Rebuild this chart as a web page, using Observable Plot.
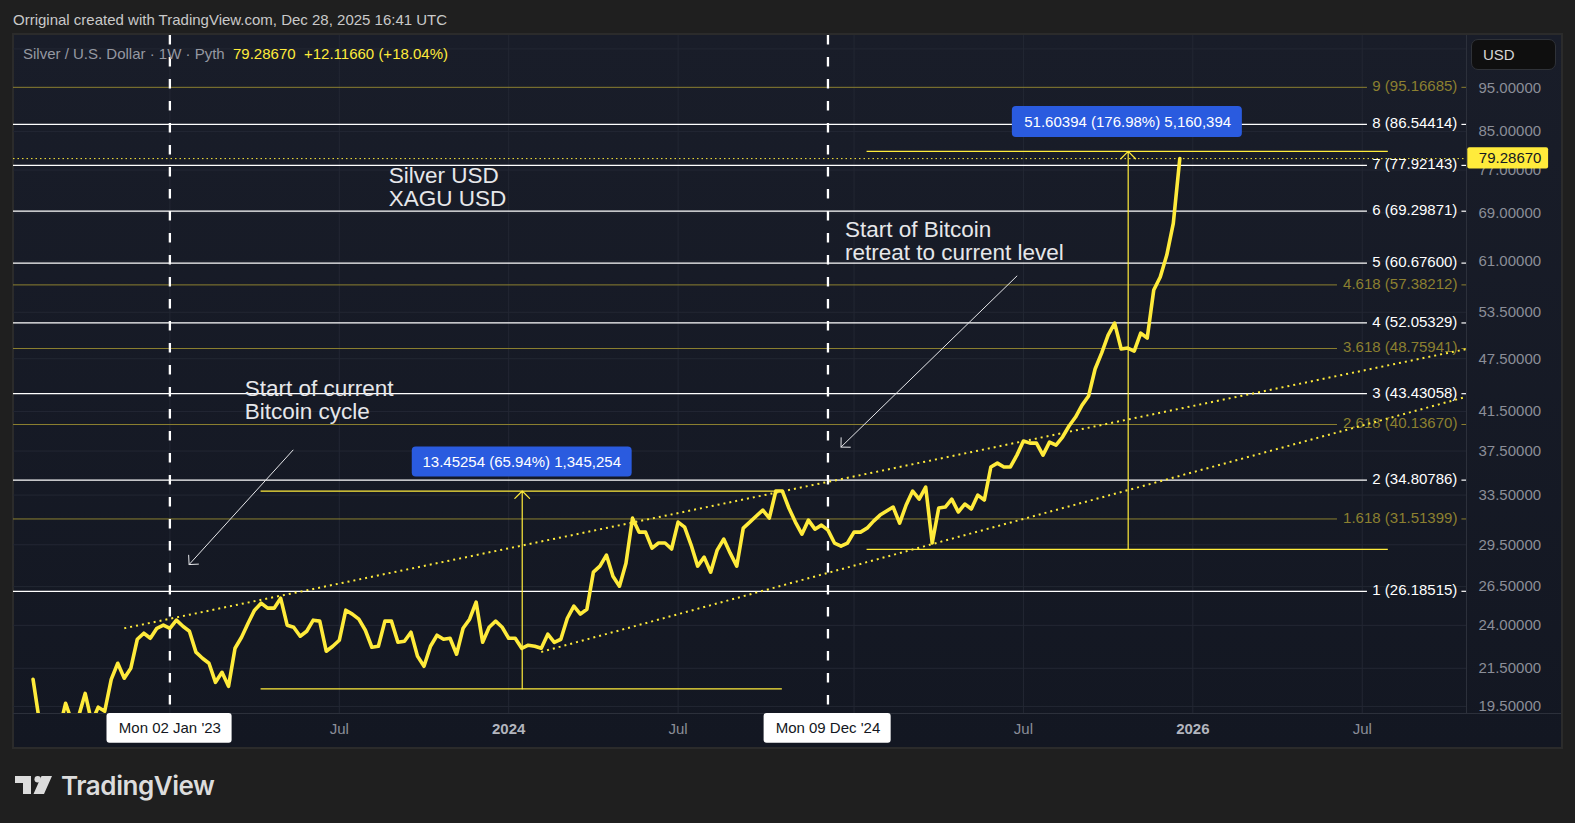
<!DOCTYPE html>
<html>
<head>
<meta charset="utf-8">
<script src="https://cdn.jsdelivr.net/npm/d3@7"></script>
<script src="https://cdn.jsdelivr.net/npm/@observablehq/plot@0.6"></script>
<style>
html,body{margin:0;padding:0;background:#1f1f1f;width:1575px;height:823px;overflow:hidden;font-family:"Liberation Sans",Arial,sans-serif}
#pane{position:absolute;left:12px;top:33px;width:1547px;height:712px;border:2px solid #2b2b2b;background:linear-gradient(#191d29,#131722)}
#chart{position:absolute;left:0;top:0}
.t{position:absolute;white-space:pre;font-size:15px;line-height:18px}
#usd{position:absolute;left:1471px;top:39px;width:85px;height:31px;box-sizing:border-box;background:#0f0f0f;border:1px solid #2f3238;border-radius:7px;color:#d6d6d6;font-size:15px;line-height:30px;padding-left:11px}
#logoText{position:absolute;left:61px;top:768px;font-family:Inter,"Liberation Sans",sans-serif;font-weight:600;font-size:26px;line-height:36px;color:#dcdcdc;letter-spacing:-0.45px}
</style>
</head>
<body>
<div id="pane"></div>
<div id="chart"></div>
<div class="t" style="left:13px;top:11px;color:#c9c9c9">Orriginal created with TradingView.com, Dec 28, 2025 16:41 UTC</div>
<div class="t" style="left:23px;top:45px;color:#9598a1">Silver / U.S. Dollar · 1W · Pyth</div>
<div class="t" style="left:233px;top:45px;color:#ffeb3b">79.28670</div>
<div class="t" style="left:304px;top:45px;color:#ffeb3b">+12.11660 (+18.04%)</div>
<div id="usd">USD</div>
<svg style="position:absolute;left:15px;top:775px" width="40" height="20" viewBox="0 0 40 20">
<path d="M0 1H16V19H8V8H0Z M26.5 1H37L29 19H18.5Z" fill="#dcdcdc"/><circle cx="22.7" cy="4.2" r="3.2" fill="#dcdcdc"/>
</svg>
<div id="logoText">TradingView</div>
<script>
// Weekly closes, first bar Mon 08 Aug 2022 (the bars below the pane are estimates)
const firstWeek = new Date(Date.UTC(2022, 7, 8));
const closes = [
20.90,18.72,18.10,18.10,18.34,19.66,18.72,19.02,20.16,18.72,19.46,19.26,20.90,21.78,20.96,21.50,23.16,23.52,23.22,23.82,24.01,
23.82,24.32,23.94,23.64,22.41,22.06,21.78,20.74,21.28,20.53,22.63,23.28,24.13,24.95,25.40,25.08,25.08,25.73,24.01,23.88,23.34,23.64,24.32,24.26,22.46,22.75,23.10,24.95,24.70,24.38,23.70,22.69,22.75,24.26,24.26,22.98,23.04,23.58,22.18,21.61,22.75,23.40,23.16,23.22,22.29,23.82,24.38,25.47,22.98,23.88,24.26,23.88,
23.22,23.22,22.63,22.81,22.75,22.63,23.46,22.98,23.16,24.44,25.21,24.70,25.01,27.50,27.93,28.73,27.22,26.53,28.14,31.58,30.47,30.47,29.25,29.63,29.63,29.18,31.26,30.86,29.48,27.93,28.58,27.50,29.10,29.93,28.87,27.93,30.78,31.26,31.75,32.24,31.58,33.85,33.85,32.41,31.26,30.31,31.42,30.70,31.02,
30.63,29.63,29.40,29.63,30.47,30.47,30.78,31.34,31.83,32.16,32.49,31.18,32.66,33.85,33.16,34.19,29.63,32.41,32.49,33.16,32.08,32.74,32.33,33.50,33.08,36.00,36.36,36.00,36.00,37.11,38.47,38.27,38.27,37.11,38.37,38.07,38.87,39.98,40.91,42.18,43.17,46.26,48.19,50.47,52.04,48.69,48.81,48.44,50.72,50.08,56.63,58.55,61.94,67.17,79.2867
];
const lastClose = 79.2867;

const priceTicks = [95,85,77,69,61,53.5,47.5,41.5,37.5,33.5,29.5,26.5,24,21.5,19.5];
const gridPrices = [105,85,77,69,61,53.5,47.5,41.5,37.5,33.5,29.5,26.5,24,21.5,19.5];
const monthTicks = ["2023-07-03","2024-07-01","2025-07-07","2026-07-06"];
const monthNames = ["Jul","Jul","Jul","Jul"];
const yearTicks = ["2024-01-01","2026-01-05"];
const yearNames = ["2024","2026"];
const extraGrid = ["2023-01-02","2025-01-06"];

const fibWhiteLabels = ["1","2","3","4","5","6","7","8"];
const fibWhite = [26.18515,34.80786,43.43058,52.05329,60.67600,69.29871,77.92143,86.54414];
const fibOliveLabels = ["1.618","2.618","3.618","4.618","9"];
const fibOlive = [31.51399,40.13670,48.75941,57.38212,95.16685];

const markers = ["2023-01-02","2024-12-09"];
const markerNames = ["Mon 02 Jan '23","Mon 09 Dec '24"];

const measureLow = 20.40, measureHigh = 33.85;
const measure2Low = 29.158, measure2High = 80.76;

const WHITE="#ffffff", OLIVE="#8c8030", YEL="#ffeb3b", GRID="#232733", AX="#8b8e98", BLUE="#2a5bdf", SOFT="#e6e7ea";
const yMin = 19.15, yMax = 108.67;

const d = s => new Date(s + "T00:00:00Z");
const wk = k => new Date(Date.UTC(2023,0,2) + k*7*864e5);
const rows = closes.map((c,i)=>({date:d3.utcWeek.offset(firstWeek,i), close:c}));
const xEnd = wk(199);
const fmt = v => v.toFixed(5);

const white = fibWhite.map((v,i)=>({v,label:`${fibWhiteLabels[i]} (${fmt(v)})`}));
const olive = fibOlive.map((v,i)=>({v,label:`${fibOliveLabels[i]} (${fmt(v)})`, gap: fibOliveLabels[i]==="9"?183.8:179.2}));

const channels = [
  [{x:wk(-7),y:23.82},{x:xEnd,y:48.69}],
  [{x:wk(57),y:22.42},{x:xEnd,y:43.09}]
];

const plot = Plot.plot({
  width:1575, height:823,
  marginLeft:13, marginRight:109, marginTop:35, marginBottom:110,
  style:{background:"transparent",fontFamily:'"Liberation Sans",Arial,sans-serif',fontSize:"15px",overflow:"visible"},
  x:{type:"utc",domain:[wk(-24),xEnd]},
  y:{type:"log",domain:[yMin,yMax]},
  marks:[
    // grid
    Plot.ruleY(gridPrices,{stroke:GRID,strokeWidth:1}),
    Plot.ruleX([...monthTicks,...yearTicks,...extraGrid].map(d),{stroke:GRID,strokeWidth:1}),
    Plot.ruleX([xEnd],{stroke:"#2c303b",strokeWidth:1}),
    Plot.ruleY([yMin],{x1:wk(-24),x2:wk(213.6),stroke:"#2c303b",strokeWidth:1}),
    // fib levels
    Plot.ruleY(olive,{y:"v",x1:wk(-24),x2:r=>wk(r.gap),stroke:OLIVE,strokeWidth:1}),
    Plot.ruleY(olive,{y:"v",x1:wk(198.3),x2:xEnd,stroke:OLIVE,strokeWidth:1}),
    Plot.ruleY(white,{y:"v",x1:wk(-24),x2:wk(183.8),stroke:WHITE,strokeWidth:1.2}),
    Plot.ruleY(white,{y:"v",x1:wk(198.3),x2:xEnd,stroke:WHITE,strokeWidth:1.2}),
    Plot.text(olive,{x:wk(197.6),y:"v",text:"label",textAnchor:"end",fill:OLIVE,fontSize:15,dy:-1}),
    Plot.text(white,{x:wk(197.6),y:"v",text:"label",textAnchor:"end",fill:WHITE,fontSize:15,dy:-1}),
    // channel
    ...channels.map(c=>Plot.line(c,{x:"x",y:"y",stroke:YEL,strokeWidth:2,strokeDasharray:"2,4",strokeLinecap:"butt"})),
    // last price line
    Plot.ruleY([lastClose],{x1:wk(-24),x2:xEnd,stroke:YEL,strokeWidth:1,strokeDasharray:"1.5,3"}),
    // measures
    Plot.ruleY([measureLow,measureHigh],{x1:wk(14),x2:wk(94),stroke:YEL,strokeWidth:1.2}),
    Plot.ruleY([measure2Low,measure2High],{x1:wk(107),x2:wk(187),stroke:YEL,strokeWidth:1.2}),
    Plot.arrow([0],{x1:wk(54),x2:wk(54),y1:measureLow,y2:measureHigh,stroke:YEL,strokeWidth:1.2,headLength:13,headAngle:90,bend:0,dx:0.5}),
    Plot.arrow([0],{x1:wk(147),x2:wk(147),y1:measure2Low,y2:measure2High,stroke:YEL,strokeWidth:1.2,headLength:13,headAngle:90,bend:0,dx:0.5}),
    Plot.rect([0],{x1:wk(37.2),x2:wk(70.95),y1:37.88,y2:35.08,fill:BLUE,rx:4}),
    Plot.text(["13.45254 (65.94%) 1,345,254"],{x:wk(54),y:36.45,text:d=>d,fill:"#fff",fontSize:15}),
    Plot.rect([0],{x1:wk(129.3),x2:wk(164.6),y1:90.6,y2:83.67,fill:BLUE,rx:4}),
    Plot.text(["51.60394 (176.98%) 5,160,394"],{x:wk(147),y:87.05,text:d=>d,fill:"#fff",fontSize:15}),
    // vertical session markers
    Plot.ruleX(markers.map(d),{stroke:WHITE,strokeWidth:2.3,strokeDasharray:"9.5,12.5"}),
    // annotation arrows
    Plot.arrow([0],{x1:wk(18.9),y1:37.59,x2:wk(2.95),y2:28.04,stroke:SOFT,strokeWidth:1,headLength:14,headAngle:90,bend:0}),
    Plot.arrow([0],{x1:wk(130),y1:58.7,x2:wk(103),y2:37.88,stroke:SOFT,strokeWidth:1,headLength:14,headAngle:90,bend:0}),
    // annotation text
    Plot.text(["Silver USD\nXAGU USD"],{x:wk(33.6),y:73.7,text:d=>d,textAnchor:"start",lineAnchor:"middle",fill:SOFT,fontSize:22.5,lineHeight:1.045}),
    Plot.text(["Start of Bitcoin\nretreat to current level"],{x:wk(103.6),y:64.2,text:d=>d,textAnchor:"start",lineAnchor:"middle",fill:SOFT,fontSize:22.5,lineHeight:1.045}),
    Plot.text(["Start of current\nBitcoin cycle"],{x:wk(11.5),y:42.75,text:d=>d,textAnchor:"start",lineAnchor:"middle",fill:SOFT,fontSize:22.5,lineHeight:1.045}),
    // price
    Plot.line(rows,{x:"date",y:"close",stroke:YEL,strokeWidth:3.6,clip:true}),
    // axes
    Plot.axisY({anchor:"right",ticks:priceTicks,tickSize:0,tickPadding:12,tickFormat:fmt,fill:AX,fontSize:15,label:null}),
    Plot.axisX({ticks:monthTicks.map(d),tickSize:0,tickPadding:10,tickFormat:(v,i)=>monthNames[i],fill:AX,fontSize:15,label:null}),
    Plot.axisX({ticks:yearTicks.map(d),tickSize:0,tickPadding:10,tickFormat:(v,i)=>yearNames[i],fill:"#b2b5be",fontSize:15,fontWeight:700,label:null}),
    // date tags
    Plot.rect([0],{x1:wk(-9.65),x2:wk(9.55),y1:yMin,y2:17.75,fill:"#fff",rx:3}),
    Plot.rect([0],{x1:wk(91.2),x2:wk(110.7),y1:yMin,y2:17.75,fill:"#fff",rx:3}),
    Plot.text(markers.map(d),{x:v=>v,y:18.42,text:(v,i)=>markerNames[i],fill:"#131722",fontSize:15}),
    // last price tag
    Plot.rect([0],{x1:wk(199.2),x2:wk(211.6),y1:81.53,y2:77.2,fill:YEL,rx:2}),
    Plot.text([fmt(lastClose)],{x:wk(205.7),y:lastClose,text:d=>d,fill:"#131722",fontSize:15})
  ]
});
document.getElementById("chart").append(plot);
</script>
</body>
</html>
